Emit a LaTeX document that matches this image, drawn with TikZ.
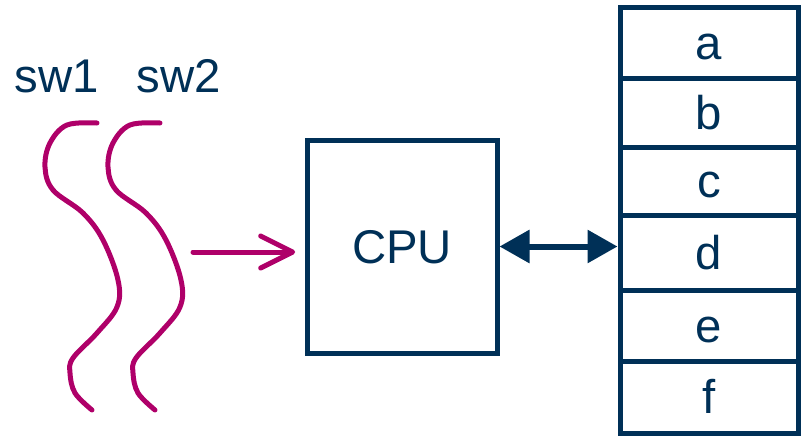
\documentclass[tikz,border=0pt]{standalone}
\usepackage{fontspec}
\setmainfont{Liberation Sans}
\usetikzlibrary{arrows.meta}
\definecolor{navy}{RGB}{0,48,87}
\definecolor{wire}{RGB}{175,0,105}
\tikzset{
  label text/.style={text=navy,font=\fontsize{35.5}{42}\selectfont,text height=25.4pt,text depth=0pt,inner sep=0pt},
  cell/.style={draw=navy,line width=3.75pt,minimum width=133.5pt,inner sep=0pt,label text},
  cpubox/.style={draw=navy,line width=3.75pt,minimum width=142.5pt,minimum height=159.75pt,label text},
  squiggle/.style={draw=wire,line width=3.75pt,line cap=round,line join=round},
  feed/.style={draw=wire,line width=3.75pt,line cap=round,-{Straight Barb[length=24pt,width=24pt,round]}},
  bus/.style={draw=navy,line width=4.5pt,{Triangle[length=22.5pt,width=24pt]}-{Triangle[length=22.5pt,width=24pt]}}
}

\begin{document}
\begin{tikzpicture}[x=0.75pt,y=-0.75pt]
\useasboundingbox (0,0) rectangle (803,436);
% software threads
\foreach \dx/\sw/\lx in {0/sw1/57, 63/sw2/179} {
  \node[label text] (\sw) at (\lx,75.5) {\sw};
  \draw[squiggle,shift={(\dx,0)}] plot[smooth,tension=0.6] coordinates {(97,123) (67,125) (50,143) (45,167) (53,190) (83,213) (103,240) (118,280) (117,307) (97,333) (73,358) (70,373) (75,393) (92,410)};
}
\node[cpubox] (cpu) at (402,246.5) {CPU};
% memory cells
\node[cell,minimum height=53.25pt] (a) at (709,42.5) {a};
\node[cell,minimum height=51.75pt] (b) at (709,112.5) {b};
\node[cell,minimum height=51pt] (c) at (709,181) {c};
\node[cell,minimum height=56.25pt] (d) at (709,252.5) {d};
\node[cell,minimum height=53.25pt] (e) at (709,325.5) {e};
\node[cell,minimum height=54pt] (f) at (709,397) {f};
\coordinate (src) at (193,252);
\draw[feed,shorten >=7pt] (src) -- (src -| cpu.west);
\draw[bus] (cpu.east) -- (cpu.east -| d.west);
\end{tikzpicture}
\end{document}
